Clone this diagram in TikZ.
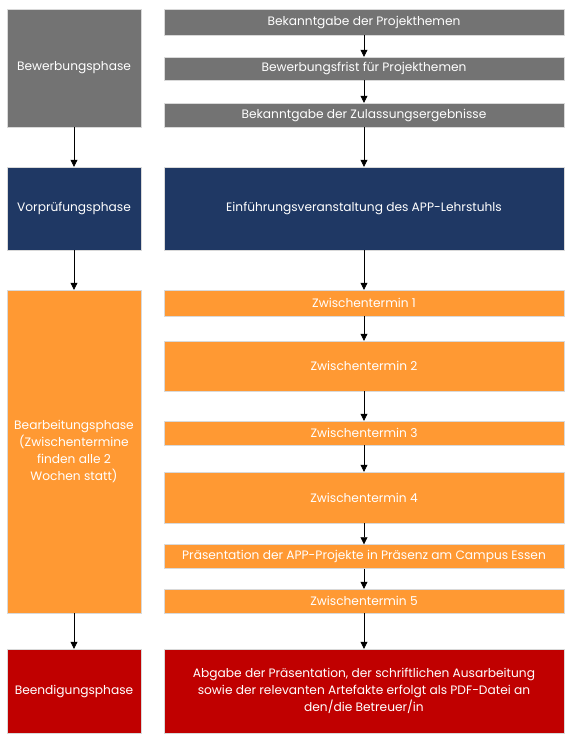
\documentclass[tikz,border=0pt]{standalone}
\usepackage{fontspec}
\setmainfont{Poppins}
\usetikzlibrary{arrows.meta}
\definecolor{cgray}{HTML}{737373}
\definecolor{cnavy}{HTML}{1F3864}
\definecolor{corange}{HTML}{FF9933}
\definecolor{cred}{HTML}{C00000}
\tikzset{
  box/.style={rectangle, inner sep=0pt, text=white, align=center, font=\fontsize{12.2}{17}\selectfont, draw=white!85!black, line width=0.4pt},
  lbox/.style={box, minimum width=134pt},
  rbox/.style={box, minimum width=400pt},
  conn/.style={draw=black, line width=0.6pt, -{Triangle[length=7pt,width=7pt]}}
}
\begin{document}
\begin{tikzpicture}[x=1pt,y=-1pt]
\useasboundingbox (0,0) rectangle (571,740);
% left column
\node[lbox, fill=cgray, minimum height=118pt] (L1) at (74,68) {Bewerbungsphase};
\node[lbox, fill=cnavy, minimum height=83pt] (L2) at (74,208.5) {Vorprüfungsphase};
\node[lbox, fill=corange, minimum height=323pt] (L3) at (74,451.5) {Bearbeitungsphase\\(Zwischentermine\\finden alle 2\\Wochen statt)};
\node[lbox, fill=cred, minimum height=84pt] (L4) at (74,691) {Beendigungsphase};
% right column
\node[rbox, fill=cgray, minimum height=26pt] (R1) at (364,22) {Bekanntgabe der Projekthemen};
\node[rbox, fill=cgray, minimum height=23pt] (R2) at (364,68.5) {Bewerbungsfrist für Projekthemen};
\node[rbox, fill=cgray, minimum height=24pt] (R3) at (364,115) {Bekanntgabe der Zulassungsergebnisse};
\node[rbox, fill=cnavy, minimum height=83pt] (R4) at (364,208.5) {Einführungsveranstaltung des APP-Lehrstuhls};
\node[rbox, fill=corange, minimum height=26pt] (Z1) at (364,303) {Zwischentermin 1};
\node[rbox, fill=corange, minimum height=50pt] (Z2) at (364,366) {Zwischentermin 2};
\node[rbox, fill=corange, minimum height=24pt] (Z3) at (364,433) {Zwischentermin 3};
\node[rbox, fill=corange, minimum height=51pt] (Z4) at (364,497.5) {Zwischentermin 4};
\node[rbox, fill=corange, minimum height=24pt] (P) at (364,556.5) {Präsentation der APP-Projekte in Präsenz am Campus Essen};
\node[rbox, fill=corange, minimum height=24pt] (Z5) at (364,601) {Zwischentermin 5};
\node[rbox, fill=cred, minimum height=84pt] (R5) at (364,691) {Abgabe der Präsentation, der schriftlichen Ausarbeitung\\sowie der relevanten Artefakte erfolgt als PDF-Datei an\\den/die Betreuer/in};
% connectors
\draw[conn] (L1) -- (L2);
\draw[conn] (L2) -- (L3);
\draw[conn] (L3) -- (L4);
\draw[conn] (R1) -- (R2);
\draw[conn] (R2) -- (R3);
\draw[conn] (R3) -- (R4);
\draw[conn] (R4) -- (Z1);
\draw[conn] (Z1) -- (Z2);
\draw[conn] (Z2) -- (Z3);
\draw[conn] (Z3) -- (Z4);
\draw[conn] (Z4) -- (P);
\draw[conn] (P) -- (Z5);
\draw[conn] (Z5) -- (R5);
\end{tikzpicture}
\end{document}
